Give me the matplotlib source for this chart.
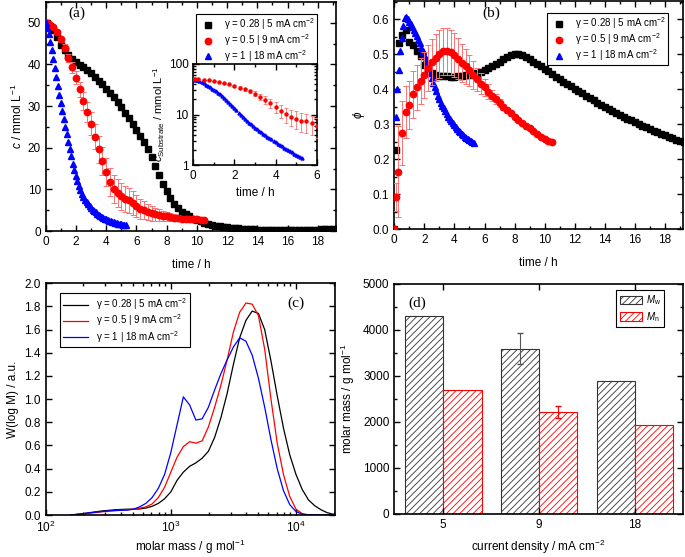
import numpy as np
import matplotlib
matplotlib.use("Agg")
import matplotlib.pyplot as plt
from matplotlib.ticker import MultipleLocator, LogLocator, NullFormatter

plt.rcParams['font.family'] = ['Liberation Sans', 'DejaVu Sans']
plt.rcParams['mathtext.fontset'] = 'custom'
plt.rcParams['mathtext.rm'] = 'Liberation Sans'
plt.rcParams['mathtext.it'] = 'Liberation Sans:italic'
plt.rcParams['mathtext.bf'] = 'Liberation Sans:bold'
plt.rcParams['hatch.linewidth'] = 0.6

labels = ["γ = 0.28 | 5 mA cm$^{-2}$",
          "γ = 0.5 | 9 mA cm$^{-2}$",
          "γ = 1 | 18 mA cm$^{-2}$"]

# sampling times (h)
t_black = np.concatenate([[0, 0.1, 0.3, 0.5, 0.75], np.arange(4, 78) / 4])
t_red = np.concatenate([[0, 0.1], np.arange(1, 43) / 4])
t_blue = np.arange(54) / 10

# (a) concentration, mmol/L
c_black = [50, 49.9, 49.2, 48.3, 46.5,
           44.7, 43.4, 42.3, 41.4, 40.6, 39.9, 39.3, 38.6, 37.9, 37.0, 36.1, 35.2,
           34.2, 33.2, 32.1, 30.9, 29.7, 28.4, 27.1, 25.7, 24.3, 22.9, 21.4, 19.7,
           17.8, 15.7, 13.5, 11.4, 9.5, 7.9, 6.6, 5.5, 4.6, 4.0, 3.5, 3.0,
           2.6, 2.3, 2.0, 1.75, 1.5, 1.3, 1.15, 1.0, 0.9, 0.8, 0.7, 0.62,
           0.55, 0.5, 0.45, 0.4, 0.36, 0.33, 0.3, 0.28, 0.26, 0.25, 0.24, 0.24,
           0.24, 0.25, 0.26, 0.27, 0.28, 0.3, 0.32, 0.34, 0.36, 0.38, 0.4, 0.42,
           0.44, 0.46]
c_red = [50, 49.9, 49.7, 49.0, 47.7, 46.0, 44.0, 41.6, 39.3, 36.8, 34.0, 31.3,
         28.6, 25.8, 22.6, 19.6, 16.8, 14.1, 11.8, 10.1, 9.1, 8.3, 7.6, 7.4,
         6.7, 6.0, 5.4, 5.0, 4.6, 4.3, 4.0, 3.8, 3.6, 3.5, 3.35, 3.2, 3.1, 3.0,
         2.95, 2.9, 2.85, 2.8, 2.75, 2.7]
c_red_err = [0, 0, 0.2, 0.3, 0.4, 0.6, 0.8, 1.0, 1.3, 1.6, 1.9, 2.2, 2.5, 2.8,
             3.0, 3.2, 3.3, 3.4, 3.4, 3.4, 3.3, 3.2, 3.1, 3.0, 2.8, 2.6, 2.4,
             2.2, 2.0, 1.8, 1.6, 1.4, 1.25, 1.1, 0.95, 0.8, 0.7, 0.6, 0.5, 0.45,
             0.4, 0.35, 0.3, 0.3]
c_blue = [50, 48.8, 47.2, 45.4, 43.4, 41.3, 39.1, 36.9, 34.8, 32.7, 30.7, 28.8,
          26.9, 25.0, 23.2, 21.4, 19.6, 17.9, 16.0, 14.6, 13.3, 12.1, 10.9, 9.9,
          9.0, 8.2, 7.5, 6.9, 6.4, 5.9, 5.5, 5.1, 4.75, 4.45, 4.15, 3.9, 3.65,
          3.42, 3.2, 3.0, 2.82, 2.65, 2.5, 2.35, 2.22, 2.1, 1.98, 1.87, 1.77,
          1.68, 1.59, 1.51, 1.44, 1.37]

# (b) phi
phi_black = [0, 0.227, 0.532, 0.556, 0.568,
             0.535, 0.527, 0.508, 0.494, 0.47, 0.455, 0.447, 0.441, 0.439, 0.437,
             0.438, 0.434, 0.435, 0.437, 0.438, 0.44, 0.442, 0.444, 0.446, 0.45,
             0.455, 0.46, 0.466, 0.472, 0.478, 0.485, 0.491, 0.497, 0.5, 0.5,
             0.497, 0.492, 0.486, 0.479, 0.472, 0.465, 0.458, 0.451, 0.444, 0.436,
             0.429, 0.422, 0.415, 0.408, 0.401, 0.394, 0.388, 0.381, 0.375, 0.369,
             0.362, 0.356, 0.35, 0.344, 0.338, 0.333, 0.327, 0.322, 0.316, 0.311,
             0.306, 0.301, 0.296, 0.291, 0.286, 0.282, 0.277, 0.273, 0.268, 0.264,
             0.26, 0.256, 0.252, 0.248]
phi_red = [0, 0.091, 0.165, 0.275, 0.335, 0.355, 0.385, 0.405, 0.423, 0.44,
           0.461, 0.477, 0.49, 0.5, 0.508, 0.509, 0.505, 0.498, 0.487, 0.476,
           0.465, 0.454, 0.441, 0.428, 0.416, 0.405, 0.393, 0.382, 0.371, 0.36,
           0.35, 0.34, 0.331, 0.322, 0.313, 0.304, 0.296, 0.288, 0.28, 0.272,
           0.265, 0.258, 0.251, 0.25]
phi_red_err = [0, 0.04, 0.13, 0.09, 0.075, 0.068, 0.066, 0.065, 0.065, 0.065,
               0.065, 0.066, 0.067, 0.068, 0.068, 0.067, 0.065, 0.062, 0.058,
               0.054, 0.049, 0.044, 0.039, 0.034, 0.029, 0.025, 0.021, 0.017,
               0.014, 0.011, 0.009, 0.007, 0.006, 0.005, 0.004, 0.004, 0.003,
               0.003, 0.003, 0.003, 0.003, 0.003, 0.003, 0.003]
phi_blue = [0, 0.32, 0.40, 0.455, 0.51, 0.545, 0.58, 0.603, 0.607, 0.602, 0.593,
            0.585, 0.577, 0.569, 0.56, 0.552, 0.542, 0.531, 0.519, 0.508, 0.497,
            0.486, 0.472, 0.459, 0.446, 0.432, 0.419, 0.406, 0.394, 0.382, 0.371,
            0.362, 0.353, 0.345, 0.337, 0.329, 0.322, 0.315, 0.309, 0.303, 0.297,
            0.292, 0.287, 0.282, 0.277, 0.273, 0.269, 0.265, 0.261, 0.258, 0.255,
            0.252, 0.249, 0.246]

# (c) molar mass distribution
logM = np.arange(44) * 0.05 + 2.2
w_black = [0.0, 0.005, 0.012, 0.02, 0.028, 0.035, 0.04, 0.045, 0.048, 0.05,
           0.05, 0.052, 0.06, 0.075, 0.1, 0.14, 0.2, 0.3, 0.37, 0.42, 0.45,
           0.49, 0.55, 0.67, 0.84, 1.05, 1.3, 1.53, 1.68, 1.76, 1.74, 1.6, 1.33,
           1.03, 0.75, 0.52, 0.35, 0.22, 0.13, 0.08, 0.045, 0.02, 0.006, 0.0]
w_red = [0.0, 0.005, 0.01, 0.016, 0.022, 0.028, 0.033, 0.038, 0.042, 0.045,
         0.05, 0.058, 0.07, 0.095, 0.15, 0.24, 0.37, 0.5, 0.59, 0.633, 0.62,
         0.64, 0.76, 0.93, 1.12, 1.34, 1.58, 1.75, 1.83, 1.82, 1.72, 1.43, 1.0,
         0.62, 0.35, 0.16, 0.05, 0.012, 0.002, 0.0, 0.0, 0.0, 0.0, 0.0]
w_blue = [0.0, 0.006, 0.012, 0.018, 0.024, 0.03, 0.035, 0.038, 0.04, 0.042,
          0.05, 0.07, 0.1, 0.15, 0.23, 0.35, 0.54, 0.78, 1.02, 0.95, 0.82,
          0.83, 0.93, 1.08, 1.22, 1.34, 1.45, 1.53, 1.5, 1.38, 1.18, 0.93, 0.65,
          0.4, 0.21, 0.09, 0.03, 0.007, 0.0, 0.0, 0.0, 0.0, 0.0, 0.0]

# (d) averages
densities = ["5", "9", "18"]
Mw = [4310, 3590, 2880]
Mw_err = [0, 340, 0]
Mn = [2690, 2210, 1920]
Mn_err = [0, 130, 0]

W, H = 685, 557
fig = plt.figure(figsize=(W / 100, H / 100), dpi=100)


def box(l, t, r, b):
    return [l / W, 1 - b / H, (r - l) / W, (b - t) / H]


def style(ax, fs=8.5):
    for s in ax.spines.values():
        s.set_linewidth(1.2)
    ax.tick_params(which='both', direction='in', top=True, right=True,
                   labelsize=fs, width=1.0)
    ax.tick_params(which='major', length=4)
    ax.tick_params(which='minor', length=2)


def framed(leg):
    leg.get_frame().set_linewidth(0.8)
    leg.set_zorder(10)
    return leg


leg_kw = dict(fontsize=7, fancybox=False, edgecolor='black', borderaxespad=0,
              framealpha=1)

mk = dict(linestyle='none')
blk = dict(marker='s', color='black', ms=3.8, **mk)
red = dict(marker='o', color='red', ms=4.6, ecolor='#ff7070', elinewidth=0.7,
           capsize=2, capthick=0.7, **mk)
blu = dict(marker='^', color='blue', ms=5, **mk)

# ---- (a)
ax = fig.add_axes(box(45.7, 2, 336, 231))
h1, = ax.plot(t_black, c_black, zorder=2, **blk)
h2 = ax.errorbar(t_red, c_red, yerr=c_red_err, zorder=3, **red)[0]
h3, = ax.plot(t_blue, c_blue, zorder=4, **blu)
ax.set_xlim(0, 19.2)
ax.set_ylim(0, 55)
ax.xaxis.set_major_locator(MultipleLocator(2))
ax.xaxis.set_minor_locator(MultipleLocator(1))
ax.yaxis.set_major_locator(MultipleLocator(10))
ax.yaxis.set_minor_locator(MultipleLocator(5))
style(ax)
ax.set_xlabel("time / h", fontsize=8.5, labelpad=8)
ax.set_ylabel(r"$c$ / mmol L$^{-1}$", fontsize=8.5, labelpad=2)
framed(ax.legend([h1, h2, h3], labels, loc='upper right', borderpad=0.25,
                 handletextpad=0.6, labelspacing=0.0,
                 bbox_to_anchor=(0.935, 0.948), **leg_kw))
ax.text(0.077, 0.95, "(a)", transform=ax.transAxes, fontsize=11,
        family='Liberation Serif', ha='left', va='center')

# inset
ins = fig.add_axes(box(193.3, 64, 316.7, 165))
sel = np.array(t_red) <= 6
ins.errorbar(np.array(t_red)[sel], np.array(c_red)[sel],
             yerr=np.array(c_red_err)[sel], marker='o', color='red', ms=2.2,
             ecolor='#ff7070', elinewidth=0.6, capsize=1.5, capthick=0.6,
             linestyle='none', zorder=3)
ins.plot(t_blue, c_blue, marker='^', color='blue', ms=2.2, linestyle='none',
         zorder=2)
ins.set_yscale('log')
ins.set_xlim(0, 6)
ins.set_ylim(1, 100)
ins.set_yticks([1, 10, 100], ['1', '10', '100'])
ins.yaxis.set_minor_formatter(NullFormatter())
ins.xaxis.set_major_locator(MultipleLocator(2))
ins.xaxis.set_minor_locator(MultipleLocator(1))
style(ins)
ins.set_xlabel("time / h", fontsize=8.5, labelpad=4)
ins.set_ylabel(r"$c_\mathrm{Substrate}$ / mmol L$^{-1}$", fontsize=8, labelpad=1)

# ---- (b)
ax = fig.add_axes(box(394.3, 1, 683, 229.3))
h1, = ax.plot(t_black, phi_black, zorder=2, **blk)
h2 = ax.errorbar(t_red, phi_red, yerr=phi_red_err, zorder=4, **red)[0]
h3, = ax.plot(t_blue, phi_blue, zorder=3, **blu)
ax.set_xlim(0, 19.2)
ax.set_ylim(0, 0.652)
ax.xaxis.set_major_locator(MultipleLocator(2))
ax.xaxis.set_minor_locator(MultipleLocator(1))
ax.yaxis.set_major_locator(MultipleLocator(0.1))
ax.yaxis.set_minor_locator(MultipleLocator(0.05))
ax.yaxis.set_major_formatter(lambda v, p: f"{v:.1f}")
style(ax)
ax.set_xlabel("time / h", fontsize=8.5, labelpad=8)
ax.set_ylabel(r"$\phi$", fontsize=8.5, labelpad=4)
framed(ax.legend([h1, h2, h3], labels, loc='upper right', borderpad=0.25,
                 handletextpad=0.6, labelspacing=0.0,
                 bbox_to_anchor=(0.949, 0.947), **leg_kw))
ax.text(0.305, 0.945, "(b)", transform=ax.transAxes, fontsize=11,
        family='Liberation Serif', ha='left', va='center')

# ---- (c)
ax = fig.add_axes(box(45.7, 283.3, 335, 515))
M = 10 ** logM
ax.plot(M, w_black, color='black', lw=0.9, label=labels[0])
ax.plot(M, w_red, color='red', lw=0.9, label=labels[1])
ax.plot(M, w_blue, color='blue', lw=0.9, label=labels[2])
ax.set_xscale('log')
ax.set_xlim(100, 2.05e4)
ax.set_ylim(0, 2.0)
ax.xaxis.set_major_locator(LogLocator(base=10))
ax.xaxis.set_minor_locator(LogLocator(base=10, subs=np.arange(2, 10)))
ax.xaxis.set_minor_formatter(NullFormatter())
ax.yaxis.set_major_locator(MultipleLocator(0.2))
ax.yaxis.set_major_formatter(lambda v, p: f"{v:.1f}")
style(ax)
ax.set_xlabel(r"molar mass / g mol$^{-1}$", fontsize=8.5, labelpad=2)
ax.set_ylabel("W(log M) / a.u.", fontsize=8.5, labelpad=4)
framed(ax.legend(loc='upper left', borderpad=0.3, handlelength=2.6,
                 labelspacing=0.05, bbox_to_anchor=(0.0494, 0.957), **leg_kw))
ax.text(0.835, 0.915, "(c)", transform=ax.transAxes, fontsize=11,
        family='Liberation Serif', ha='left', va='center')

# ---- (d)
ax = fig.add_axes(box(394.3, 284, 683, 513.7))
x = np.arange(1, len(densities) + 1)
ax.bar(x - 0.2, Mw, width=0.4, facecolor='white', edgecolor='#333333',
       hatch='/////', lw=0.8, label=r"$M_\mathrm{w}$")
ax.bar(x + 0.2, Mn, width=0.4, facecolor='white', edgecolor='red',
       hatch='/////', lw=0.8, label=r"$M_\mathrm{n}$")
m = np.array(Mw_err) > 0
ax.errorbar((x - 0.2)[m], np.array(Mw)[m], yerr=np.array(Mw_err)[m],
            fmt='none', ecolor='#555555', elinewidth=0.8, capsize=2.5)
m = np.array(Mn_err) > 0
ax.errorbar((x + 0.2)[m], np.array(Mn)[m], yerr=np.array(Mn_err)[m],
            fmt='none', ecolor='red', elinewidth=0.8, capsize=2.5)
ax.set_xlim(0.49, 3.5)
ax.set_ylim(0, 5000)
ax.set_xticks(x, densities)
ax.yaxis.set_major_locator(MultipleLocator(1000))
ax.yaxis.set_minor_locator(MultipleLocator(500))
style(ax)
ax.set_xlabel(r"current density / mA cm$^{-2}$", fontsize=8.5, labelpad=5)
ax.set_ylabel(r"molar mass / g mol$^{-1}$", fontsize=8.5, labelpad=4)
framed(ax.legend(loc='upper right', borderpad=0.35, handlelength=2.3,
                 handleheight=1.0, labelspacing=0.3, handletextpad=0.4,
                 bbox_to_anchor=(0.935, 0.974), **leg_kw))
ax.text(0.05, 0.915, "(d)", transform=ax.transAxes, fontsize=11,
        family='Liberation Serif', ha='left', va='center')

fig.savefig("out.png", dpi=100)
